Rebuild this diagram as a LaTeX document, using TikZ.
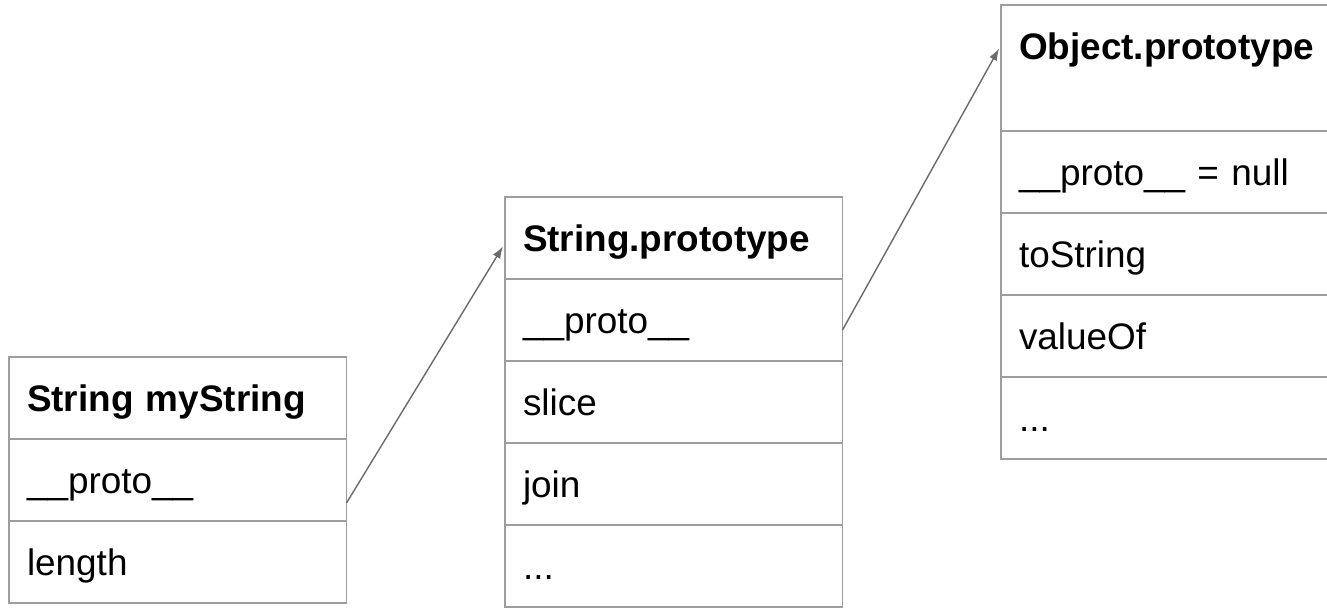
\documentclass[tikz,border=0pt]{standalone}
\usepackage{fontspec}
\setmainfont{Liberation Sans}
\usetikzlibrary{arrows.meta,positioning}
\definecolor{cellgray}{HTML}{9E9E9E}
\definecolor{linkgray}{HTML}{6B6B6B}
\tikzset{
    objcell/.style={rectangle,draw=cellgray,line width=1pt,outer sep=0pt,inner xsep=3.6mm,inner ysep=0pt,text width=6.03cm,align=left,minimum height=16.4mm,text height=15pt,text depth=0pt,font=\fontsize{21}{25}\selectfont},
    objhead/.style={objcell,font=\fontsize{21}{25}\selectfont\bfseries},
    widecell/.style={text width=6.4cm},
    protolink/.style={-{Latex[length=2.4mm,width=1.7mm]},draw=linkgray,line width=0.8pt,shorten >=0.8mm}
}
\begin{document}
\begin{tikzpicture}[node distance=0pt]
        \clip (0,0) rectangle (26.54,12.16);
        \node[objhead,anchor=north west] (mystr) at (0.18,5.02) {String myString};
        \node[objcell,below=of mystr] (mystrproto) {\_\_proto\_\_};
        \node[objcell,below=of mystrproto] (mystrlen) {length};
        \node[objhead,anchor=north west] (strproto) at (10.10,8.22) {String.prototype};
        \node[objcell,below=of strproto] (strprotolink) {\_\_proto\_\_};
        \node[objcell,below=of strprotolink] (slice) {slice};
        \node[objcell,below=of slice] (join) {join};
        \node[objcell,below=of join] (strmore) {...};
        \node[objhead,widecell,anchor=north west,minimum height=25.2mm,text depth=8.8mm] (objproto) at (20.02,12.06) {Object.prototype};
        \node[objcell,widecell,below=of objproto] (objnull) {\_\_proto\_\_ = null};
        \node[objcell,widecell,below=of objnull] (tostr) {toString};
        \node[objcell,widecell,below=of tostr] (valof) {valueOf};
        \node[objcell,widecell,below=of valof] (objmore) {...};
        \draw[protolink] ([yshift=-4.6mm]mystrproto.east) -- ([yshift=-1mm]strproto.west);
        \draw[protolink] ([yshift=-2mm]strprotolink.east) -- ([yshift=4.6mm]objproto.west);
    \end{tikzpicture}
\end{document}
